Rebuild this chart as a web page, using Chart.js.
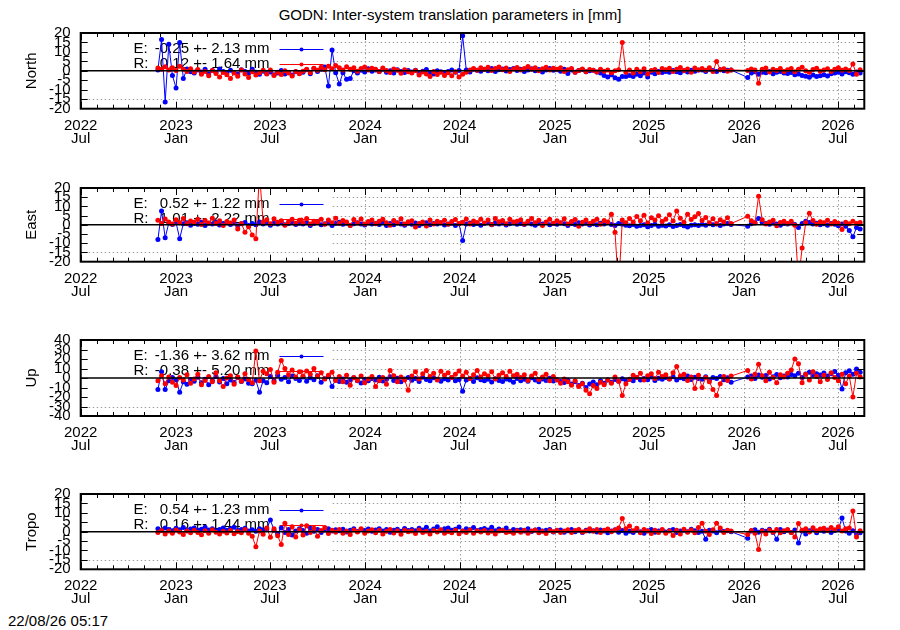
<!DOCTYPE html>
<html>
<head>
<meta charset="utf-8">
<script src="https://cdn.jsdelivr.net/npm/chart.js@4.4.1/dist/chart.umd.min.js"></script>
<style>
body { margin: 0; background: #fff; width: 900px; height: 630px; overflow: hidden; position: relative;
       font-family: "Liberation Sans", Arial, sans-serif; color: #000; }
.panel { position: absolute; left: 0; width: 900px; }
#title { position: absolute; top: 6px; left: 0; width: 900px; text-align: center; font-size: 15px; }
#stamp { position: absolute; left: 8px; top: 612px; font-size: 15px; }
</style>
</head>
<body>
<div id="title">GODN: Inter-system translation parameters in [mm]</div>
<div id="stamp">22/08/26 05:17</div>

<script>
// days since 2022-07-01 of each solution (weekly picks, gap around new year 2026)
var days = [
  149, 156, 163, 170, 177, 184, 191, 198, 205, 212,
  219, 226, 233, 240, 247, 254, 261, 268, 275, 282,
  289, 296, 303, 310, 317, 324, 331, 338, 345, 352,
  359, 366, 373, 380, 387, 394, 401, 408, 415, 422,
  429, 436, 443, 450, 457, 464, 471, 478, 485, 492,
  499, 506, 513, 520, 527, 534, 541, 548, 555, 562,
  569, 576, 583, 590, 597, 604, 611, 618, 625, 632,
  639, 646, 653, 660, 667, 674, 681, 688, 695, 702,
  709, 716, 723, 730, 737, 744, 751, 758, 765, 772,
  779, 786, 793, 800, 807, 814, 821, 828, 835, 842,
  849, 856, 863, 870, 877, 884, 891, 898, 905, 912,
  919, 926, 933, 940, 947, 954, 961, 968, 975, 982,
  989, 996, 1003, 1010, 1017, 1024, 1031, 1038, 1045, 1052,
  1059, 1066, 1073, 1080, 1087, 1094, 1101, 1108, 1115, 1122,
  1129, 1136, 1143, 1150, 1157, 1164, 1171, 1178, 1185, 1192,
  1199, 1206, 1213, 1220, 1227, 1234, 1241, 1248, 1255,
  1287,
  1294, 1301, 1308, 1315, 1322, 1329, 1336, 1343, 1350, 1357,
  1364, 1371, 1378, 1385, 1392, 1399, 1406, 1413, 1420, 1427,
  1434, 1441, 1448, 1455, 1462, 1469, 1476, 1483, 1490, 1497, 1504
];

var northE = [
  0.5, 16.5, -16.5, 14, -2.5, -9, 15, -4, 1, -0.5,
  -1.2, 0.4, -0.6, 0.8, -1.5, 0.2, -0.8, 1.0, -0.3, -1.1,
  0.3, -0.9, -1.6, 0.6, -0.4, -1.3, 0.9, -0.7, -1.8, -0.2,
  -1.4, -0.6, -2.0, -1.1, 0.2, -1.7, -0.9, -2.2, -0.5, -1.3,
  -0.8, 0.6, -1.5, 1.2, -0.4, 0.9, 2.0, -8.0, 11.0, -1.0,
  -7.0, -1.0, -4.5, -4.0, 0.0, -1.2, 0.3, -0.6, 1.1, -0.2,
  0.4, -0.3, 0.9, -0.8, 0.1, -1.2, 0.6, -0.4, -0.9, 0.2,
  -0.6, 0.3, -1.4, -0.2, 0.7, -0.9, -1.6, 0.1, -0.5, -1.1,
  -0.3, 0.5, -0.8, 0.2, 18.5, 0.4, -0.6, 0.9, 0.3, -0.2,
  0.8, 0.1, 1.2, -0.4, 0.6, 1.0, -0.1, 0.7, 1.3, 0.2,
  0.9, -0.3, 0.5, 1.1, 0.0, 0.7, -0.6, 0.4, 1.2, 0.3,
  0.6, -0.2, 0.9, -1.4, 0.4, -0.8, 0.2, 0.7, -0.5, 0.1,
  0.3, -0.6, -1.2, -2.5, -3.2, -2.0, -3.6, -4.5, -3.0, -3.0,
  -2.4, -3.0, -1.8, -2.6, -1.2, -3.2, -0.8, -1.5, -0.4, -0.9,
  -0.3, -0.8, 0.2, -0.5, -1.0, 0.1, -0.6, 0.3, -0.2, 0.4,
  0.5, -0.3, 0.8, 0.2, -0.4, 0.6, 0.1, 0.3, 0.4,
  -3.5,
  -1.2, -0.5, -1.8, -0.7, -1.0, -0.4, -1.5, -0.8, -0.3, -1.1,
  -1.4, -0.9, -2.0, -1.6, -2.4, -2.8, -3.4, -2.2, -3.0, -2.6,
  -2.0, -2.7, -1.5, -1.2, -0.8, -1.6, -0.5, -1.0, -1.8, -0.6, -1.2
];
var northR = [
  1.5, 0.8, 2.2, 0.4, 1.6, 0.2, 2.4, 0.9, -0.4, 1.1,
  -0.6, 0.7, -1.8, -0.3, -2.6, 0.2, -1.4, -3.2, -0.9, -2.1,
  -4.0, -1.2, -2.8, 0.4, -1.7, -3.5, -0.5, -2.2, -1.0, 0.3,
  -1.6, 0.5, -2.4, -0.8, -1.9, 0.1, -1.2, -2.7, -0.4, -1.5,
  -0.2, 0.8, -1.0, 1.4, 0.3, 1.9, 0.6, 2.4, 1.1, 2.8,
  1.6, 0.4, 2.2, 0.9, 1.7, -0.2, 1.2, 2.0, 0.5, 1.4,
  0.8, -0.4, 1.5, 0.2, -0.9, 1.0, 0.3, -1.3, 0.6, -0.5,
  -1.1, 0.2, -2.2, -0.6, -1.7, -3.0, -0.4, -1.9, -0.8, -2.4,
  -1.0, -2.6, -0.5, -3.2, -1.8, -0.7, 0.4, 1.2, 0.3, 1.6,
  0.7, 1.9, 0.2, 1.3, 2.1, 0.6, 1.5, -0.3, 1.0, 1.8,
  0.4, 1.2, 2.3, 0.8, 1.6, 0.1, 1.1, 1.9, 0.5, 1.4,
  0.9, 1.7, -0.4, 0.6, 1.3, -0.8, 0.2, 1.0, -0.5, 0.7,
  0.3, -0.6, 0.9, -0.2, 0.5, -1.0, 0.1, 0.6, 15.0, -0.8,
  0.4, -1.2, 0.8, -0.5, 1.1, -1.6, 0.2, 0.7, -0.9, 1.3,
  0.6, 1.4, -0.3, 0.9, 1.8, 0.2, 1.0, -0.7, 1.5, 0.4,
  1.2, 0.3, 1.7, -0.4, 5.0, 0.6, 1.1, -0.2, 0.5,
  0.2,
  1.0, 0.4, -6.5, 0.8, 1.5, -0.6, 0.9, 0.2, 1.3, -0.3,
  0.6, 1.2, -0.5, 0.8, 1.9, 0.1, -0.8, 0.7, 1.4, -0.2,
  0.5, 1.1, -0.4, 0.9, 1.6, 0.3, 1.0, 0.2, 3.6, -1.8, 0.6
];

var eastE = [
  -8.0, 7.5, -7.0, 1.0, 0.2, 1.2, -7.5, 0.6, 1.1, -0.2,
  0.8, 0.3, 1.4, -0.4, 0.9, 0.5, 1.6, -0.1, 0.7, 1.2,
  0.2, 1.0, -0.5, 0.6, 1.3, -0.3, 0.8, 0.1, 1.5, 0.4,
  1.1, -0.2, 0.9, 0.5, 1.6, 0.0, 0.7, 1.3, 0.2, 0.9,
  0.4, 1.2, -0.3, 0.8, 1.5, 0.1, 0.6, 1.1, -0.4, 0.7,
  1.4, 0.3, 0.9, -0.2, 0.6, 1.2, 0.5, -0.1, 1.0, 0.4,
  0.8, 0.2, 1.3, -0.3, 0.7, 0.1, 1.1, 0.5, -0.2, 0.9,
  0.3, 1.0, -0.4, 0.6, 1.2, 0.0, 0.8, 0.4, 1.1, -0.1,
  0.5, 0.9, -0.3, 0.6, -8.5, 0.4, 1.0, 0.2, 0.8, -0.2,
  0.7, 1.3, 0.1, 0.9, 0.4, 1.2, -0.1, 0.6, 1.0, 0.3,
  0.8, 0.2, 1.1, 0.5, -0.2, 0.9, 0.4, 1.3, 0.0, 0.7,
  0.3, 1.0, 0.6, -0.3, 0.8, 0.2, 1.2, 0.5, 0.9, -0.1,
  0.6, 0.1, 0.9, 0.4, 1.1, 0.2, -0.4, 0.7, 0.3, -0.2,
  -0.5, 0.2, -0.8, -0.3, 0.1, -1.0, -0.4, 0.3, -0.7, -0.2,
  -0.6, 0.0, -0.9, -0.3, 0.2, -0.5, -1.1, -0.2, 0.1, -0.4,
  0.3, -0.2, 0.6, 0.0, 0.4, -0.3, 0.5, 0.8, 0.2,
  -0.8,
  0.6, 1.2, 3.5, 1.4, 0.8, 0.3, 1.0, 0.5, -0.2, 0.7,
  0.4, 1.1, 0.2, -1.5, 0.8, 2.0, 1.3, 0.5, 0.9, 0.1,
  0.6, -0.2, 0.8, 0.3, -0.5, 0.4, -0.8, -3.0, -6.5, -1.5, -2.2
];
var eastR = [
  2.5, 0.8, 3.2, 1.6, 0.4, 2.8, 1.2, 3.5, 0.6, 2.1,
  1.4, 3.0, 0.2, 2.4, 1.0, 3.6, 0.7, 2.2, -0.3, 1.8,
  1.0, 2.6, -2.2, 0.8, -4.0, -1.0, -5.5, -7.5, 28.0, 1.5,
  2.8, 0.6, 3.3, 1.4, 2.2, -0.2, 1.7, 3.0, 0.9, 2.5,
  1.2, 3.4, 0.5, 2.0, 1.6, 3.1, 0.3, 2.7, 1.1, 3.6,
  0.8, 2.3, 1.5, -0.4, 2.9, 1.0, 3.2, 0.4, 1.8, 2.6,
  0.6, 2.0, 3.0, 1.2, -0.2, 2.4, 1.0, 3.3, 0.5, 1.7,
  2.2, -1.2, 0.8, 1.6, -0.6, 2.7, 0.4, 1.9, 1.1, 2.5,
  0.3, 1.8, 2.9, 0.7, 1.4, 3.2, 0.5, 2.1, 1.3, 3.0,
  1.0, 2.6, 0.2, 3.4, 1.7, 2.3, 0.6, 3.1, 1.5, 2.0,
  2.8, 0.4, 1.9, 3.5, 1.2, 2.5, -0.3, 1.6, 3.0, 0.9,
  2.2, 1.1, 3.3, 0.5, 1.8, 2.9, -0.8, 1.4, 2.6, 0.7,
  1.9, 3.1, 0.3, 2.4, 1.5, 5.8, -4.0, -35.0, 2.6, 1.2,
  3.4, 1.6, 4.5, 2.2, 5.2, 1.0, 3.8, 2.7, 4.9, 1.8,
  3.0, 5.5, 2.1, 7.5, 3.6, 1.4, 5.8, 2.9, 4.4, 6.2,
  2.4, 4.0, 1.2, 3.3, 0.6, 2.8, 1.5, 3.9, 0.7,
  4.6,
  2.2, 1.0, 15.5, 2.8, 0.4, 1.6, 2.5, -0.5, 1.3, 2.0,
  0.8, 1.9, -0.2, -30.0, -12.5, 1.1, 6.3, 2.4, 0.3, 1.7,
  1.2, 2.5, 0.4, 1.8, 0.9, -2.5, 1.4, 0.6, 2.0, 0.8, 1.3
];

var upE = [
  -12.0, 6.5, -12.0, -3.0, 0.5, -2.0, -15.0, -4.0, -6.5, -1.5,
  -3.5, 0.8, -5.0, -1.2, -7.0, -2.5, 1.5, -4.2, -0.6, -6.0,
  -2.2, -4.8, 0.4, -3.6, -1.0, -5.5, -6.0, -2.4, -15.0, -3.0,
  -5.0, 1.5, -2.8, 3.0, -1.2, 0.6, -4.0, 2.2, -0.5, -2.6,
  1.0, -3.4, 0.2, -1.8, 2.4, -4.5, -0.8, 1.6, -9.0, -2.0,
  -3.6, -1.0, -4.4, -2.2, 0.3, -3.0, -5.2, -1.6, -2.8, -0.4,
  -2.0, 0.8, -3.2, -1.4, 1.2, -2.6, -0.2, -4.0, -1.0, 0.5,
  -2.4, -0.6, -3.8, 0.9, -1.6, -2.9, 0.2, -1.2, -3.4, -0.8,
  -2.2, 0.4, -3.0, -1.5, -14.0, -2.0, -0.6, -3.6, 0.3, -1.8,
  -3.0, -1.2, -4.2, -0.8, -2.5, -3.8, -1.0, -2.2, -4.5, -0.5,
  -2.8, -1.4, -3.4, 0.2, -2.0, -4.0, -1.1, -2.6, -0.3, -3.2,
  -1.8, -3.6, -4.8, -2.4, -6.2, -4.0, -8.0, -5.4, -10.0, -6.4,
  -4.2, -7.0, -3.0, -5.6, -2.2, -4.4, -1.6, -3.4, -0.8, -2.6,
  -1.2, -3.0, 0.4, -2.0, -0.6, -1.8, 1.0, -2.6, -0.2, -1.4,
  0.6, -1.0, 1.4, -2.2, 0.2, -0.8, 2.0, -1.6, 0.8, -0.4,
  -1.2, 1.2, -2.4, 0.4, -0.6, 1.6, -1.8, 0.2, -4.5,
  1.0,
  2.0, -0.4, 3.2, 0.8, 2.6, -1.0, 1.4, 3.6, 0.2, 2.2,
  1.0, 3.8, 2.4, 5.0, 0.6, 4.2, 6.0, 2.8, 4.6, 3.2,
  5.2, 2.0, 4.4, 6.8, 3.0, -11.6, 5.6, 7.6, 4.0, 9.6, 6.0
];
var upR = [
  -3.0, 2.5, -6.0, 1.0, -4.5, -8.0, 0.5, -2.0, 3.5, -5.5,
  -1.0, 4.0, -7.0, -2.5, 1.5, -4.0, 5.5, -3.0, -9.0, 0.0,
  2.5, -6.5, 1.0, -3.5, 4.5, -1.5, -5.0, 28.5, -3.0, 7.0,
  4.5, 9.0, -4.5, 6.0, 18.5, 10.0, 3.5, 8.5, 1.0, 6.5,
  2.0, 7.5, 4.0, 10.0, 1.5, 5.5, -1.0, 3.0, 6.0, -2.5,
  1.5, -4.0, 3.0, -7.5, 0.5, -2.5, 2.0, -5.0, -1.0, 1.5,
  -9.0, -3.0, 0.5, -6.5, 8.0, 2.5, -4.0, 1.0, -2.0, -13.0,
  2.0, 6.5, -1.0, 4.5, 8.0, 1.5, 5.0, -2.0, 7.0, 3.0,
  5.5, 0.5, 4.0, 7.5, 2.0, 6.0, -0.5, 3.5, 8.0, 1.0,
  4.5, 2.0, 6.5, -1.0, 3.0, 5.5, 1.5, 7.0, 2.5, 4.0,
  0.5, 3.5, -2.5, 2.0, 5.0, -1.5, 1.0, 4.0, -3.0, 1.5,
  -2.0, -5.5, -1.0, -4.0, -7.5, -3.0, -9.0, -6.0, -13.0, -16.5,
  -8.0, -11.0, -4.5, -7.0, -2.0, -5.5, 1.0, -3.5, -18.5, -6.0,
  -1.5, 3.0, 0.5, 5.0, -2.0, 2.5, 4.5, -0.5, 6.0, 1.5,
  3.5, -1.0, 5.5, 12.0, 2.0, 4.0, -2.5, 1.0, -11.0, 3.0,
  -10.0, 0.5, -4.0, -12.0, -18.5, -6.0, 1.5, -2.5, 2.0,
  8.0,
  -1.0, 4.0, 14.5, 2.5, -3.0, 6.0, 0.5, -5.0, 3.5, 1.0,
  5.0, 8.5, 20.0, 15.0, -5.0, 4.0, -2.0, 6.5, 1.5, -4.0,
  3.0, -1.5, 5.5, 0.5, -3.0, 4.0, -6.0, 2.0, -20.0, 5.0, 1.0
];

var tropoE = [
  1.5, 0.8, 2.0, 1.2, 0.5, 1.8, 1.0, 2.2, 0.6, 1.4,
  1.9, 0.7, 1.3, 2.4, 0.9, 1.6, 0.3, 1.1, 2.0, 0.8,
  1.5, 2.3, 0.6, 1.2, 1.8, 0.4, 1.0, 0.2, 1.6, 0.9,
  1.4, 6.2, 0.8, -1.0, 2.0, -0.5, 1.2, -1.8, 0.4, 1.6,
  0.6, -0.8, 1.8, 0.2, 1.2, -0.4, 0.9, 1.5, 0.3, 1.0,
  0.5, 1.3, -0.2, 0.8, 1.6, 0.1, 1.1, 0.6, 1.4, 0.2,
  0.9, 1.5, 0.4, 1.1, -0.3, 0.8, 1.3, 0.2, 1.7, 0.6,
  1.2, 0.5, 1.8, 0.9, 2.4, 0.3, 1.4, 2.6, 0.8, 1.5,
  2.0, 0.7, 1.3, 2.5, 0.4, 1.6, 1.0, 2.2, 0.6, 1.1,
  1.7, 0.9, 2.3, 0.5, 1.4, 0.8, 1.9, 0.2, 1.2, 0.7,
  1.0, 0.4, 1.5, 0.1, 0.9, 1.3, 0.3, 0.8, 1.1, -0.2,
  0.6, 0.9, -0.3, 0.5, 1.2, 0.0, 0.7, -0.4, 0.8, 0.3,
  0.5, -0.2, 0.9, 0.3, -0.6, 0.4, 1.0, -0.3, 0.6, -0.8,
  0.2, -0.5, 0.8, 0.0, -0.9, 0.5, 1.2, -0.3, 0.4, 0.9,
  -0.2, 0.6, 1.1, -0.5, 0.3, 0.8, -0.1, 1.3, 0.5, -0.4,
  0.2, -4.0, 0.7, 0.3, -0.6, 0.9, 0.1, 0.5, 0.0,
  -3.5,
  0.4, 1.0, -0.3, 0.8, 0.2, 1.3, -0.5, -4.0, 1.1, 0.0,
  0.7, -0.4, 0.9, -6.0, 0.3, -1.2, 0.5, 1.1, -0.6, 0.8,
  0.2, 0.9, -0.5, 0.6, 1.2, 7.3, 0.4, -0.8, 0.5, -1.2, -0.6
];
var tropoR = [
  -0.5, 0.6, -1.2, 0.3, -0.8, 0.9, -0.2, -1.5, 0.4, -0.6,
  0.8, -0.4, -1.6, 0.5, -0.9, 1.0, -0.3, -1.3, 0.2, -0.7,
  0.6, -1.1, 0.1, -0.6, 1.2, -0.8, -2.5, -8.0, 0.3, -1.4,
  2.0, -3.0, 1.5, -2.2, -6.8, 4.4, -1.5, 2.6, -2.8, 1.0,
  -1.8, 3.2, -0.5, 1.8, -2.4, 0.6, 2.2, -1.0, 0.8, -0.3,
  1.2, -0.8, 0.4, -1.5, 0.9, -0.2, 1.5, -0.9, 0.3, 1.0,
  -0.6, 0.7, -1.2, 0.2, 1.1, -0.7, 0.5, -1.4, 0.8, -0.1,
  0.4, -1.0, 0.9, -0.5, 0.2, -1.3, 0.6, -0.2, 1.0, -0.8,
  0.1, -0.6, 0.7, -1.1, 0.3, -0.4, 0.9, -0.9, 0.5, -0.2,
  0.6, -0.7, 0.2, -1.2, 0.4, 0.8, -0.5, 0.1, -0.9, 0.5,
  -0.3, 0.7, -0.8, 0.3, 0.9, -0.6, 0.2, -1.0, 0.6, 0.0,
  0.8, -0.4, 0.3, 1.0, -0.5, 0.6, 1.2, -0.2, 0.4, 1.5,
  0.2, 1.1, -0.4, 0.7, 1.4, 0.0, 0.9, 2.0, 7.0, 1.5,
  3.0, 0.5, 1.8, -0.6, 1.2, 0.3, -1.0, 0.8, -0.4, 1.1,
  -0.8, 0.4, -2.0, 0.7, -1.2, 1.3, -0.3, 0.9, -0.6, 2.2,
  4.4, 0.2, -1.5, 1.0, 4.4, 2.0, -0.5, 0.8, 0.3,
  -1.5,
  0.6, -0.8, -9.5, 0.4, -1.2, 0.9, -0.3, 1.2, -0.6, 0.5,
  1.1, -0.4, -2.8, 4.3, 0.8, 1.6, -0.2, 2.1, 0.5, 1.4,
  1.8, 0.6, 2.2, 1.0, 2.6, 0.3, 1.5, 2.0, 11.0, -2.8, 0.5
];

// axis labels
var majorDays = [0, 184, 365, 549, 731, 915, 1096, 1280, 1461];
var majorYears = ['2022', '2023', '2023', '2024', '2024', '2025', '2025', '2026', '2026'];
var majorMonths = ['Jul', 'Jan', 'Jul', 'Jan', 'Jul', 'Jan', 'Jul', 'Jan', 'Jul'];
var ticks20 = [20, 15, 10, 5, 0, -5, -10, -15, -20];
var ticks40 = [40, 30, 20, 10, 0, -10, -20, -30, -40];

var panelNames = ['North', 'East', 'Up', 'Tropo'];
var panelE = [northE, eastE, upE, tropoE];
var panelR = [northR, eastR, upR, tropoR];
var panelTicks = [ticks20, ticks20, ticks40, ticks20];
var keyE = ['-0.25 +- 2.13 mm', '0.52 +- 1.22 mm', '-1.36 +- 3.62 mm', '0.54 +- 1.23 mm'];
var keyR = ['0.12 +- 1.64 mm', '1.01 +- 2.22 mm', '-0.38 +- 5.20 mm', '0.16 +- 1.44 mm'];

// plot frames in page pixels
var frameTop = [29.3, 184, 336.7, 490];
var frameBottom = [108.7, 261.7, 416, 569.3];
var frameLeft = 80.7, frameRight = 864.3;

var monthDays = [];
for (var m = 0; m <= 49; m++) {
    monthDays.push((Date.UTC(2022, 6 + m, 1) - Date.UTC(2022, 6, 1)) / 864e5);
}

[panelE, panelR].forEach(function(set){
    set.forEach(function(arr, k){
        if (arr.length != days.length) throw new Error(panelNames[k] + ' has ' + arr.length + ' values');
    });
});

var FONT = '"Liberation Sans", Arial, sans-serif';
Chart.defaults.font.family = FONT;
Chart.defaults.font.size = 15;
Chart.defaults.color = '#000';

var gnuplotLook = {
    id: 'gnuplotLook',
    beforeDatasetsDraw: function(chart){
        var p = chart.options.plugins.gnuplotLook;
        var ctx = chart.ctx, a = chart.chartArea;
        var xs = chart.scales.x, ys = chart.scales.y;
        var lim = p.ticks[0];
        ctx.save();
        // dotted grid
        ctx.strokeStyle = '#a0a0a0';
        ctx.lineWidth = 1;
        ctx.setLineDash([1.5, 2.5]);
        p.ticks.forEach(function(v){
            if (v == 0 || Math.abs(v) == lim) return;
            var py = Math.round(ys.getPixelForValue(v)) + 0.5;
            ctx.beginPath(); ctx.moveTo(a.left, py); ctx.lineTo(a.right, py); ctx.stroke();
        });
        majorDays.forEach(function(d){
            if (d < 480) return;
            var px = Math.round(xs.getPixelForValue(d)) + 0.5;
            ctx.beginPath(); ctx.moveTo(px, a.top); ctx.lineTo(px, a.bottom); ctx.stroke();
        });
        ctx.setLineDash([]);
        // key box
        ctx.fillStyle = '#fff';
        ctx.fillRect(a.left + 1, a.top + 1, 330 - a.left, 62);
        ctx.font = '15px ' + FONT;
        ctx.textBaseline = 'middle';
        var rows = [['E:', p.keyE, '#0000ff', 15.5], ['R:', p.keyR, '#ff0000', 31]];
        rows.forEach(function(r){
            var ty = a.top + r[3];
            ctx.fillStyle = '#000';
            ctx.textAlign = 'left';
            ctx.fillText(r[0], 133.5, ty);
            ctx.textAlign = 'right';
            ctx.fillText(r[1], 269.5, ty);
            var ly = Math.round(ty) + 0.5;
            ctx.strokeStyle = r[2];
            ctx.beginPath(); ctx.moveTo(279.5, ly); ctx.lineTo(323.5, ly); ctx.stroke();
            ctx.fillStyle = r[2];
            ctx.beginPath(); ctx.arc(301.5, ly, 2, 0, 2 * Math.PI); ctx.fill();
        });
        ctx.restore();
    },
    afterDatasetsDraw: function(chart){
        var p = chart.options.plugins.gnuplotLook;
        var ctx = chart.ctx, a = chart.chartArea;
        var xs = chart.scales.x, ys = chart.scales.y;
        var lim = p.ticks[0];
        ctx.save();
        ctx.strokeStyle = '#000';
        // zero line
        var y0 = ys.getPixelForValue(0);
        ctx.lineWidth = 1.5;
        ctx.beginPath(); ctx.moveTo(a.left, y0); ctx.lineTo(a.right, y0); ctx.stroke();
        // tics
        ctx.lineWidth = 1;
        monthDays.forEach(function(d){
            var px = Math.round(xs.getPixelForValue(d)) + 0.5;
            var len = majorDays.indexOf(d) >= 0 ? 7 : 4;
            ctx.beginPath();
            ctx.moveTo(px, a.bottom); ctx.lineTo(px, a.bottom - len);
            ctx.moveTo(px, a.top); ctx.lineTo(px, a.top + len);
            ctx.stroke();
        });
        p.ticks.forEach(function(v){
            if (Math.abs(v) == lim) return;
            var py = Math.round(ys.getPixelForValue(v)) + 0.5;
            ctx.beginPath();
            ctx.moveTo(a.left, py); ctx.lineTo(a.left + 7, py);
            ctx.moveTo(a.right, py); ctx.lineTo(a.right - 7, py);
            ctx.stroke();
        });
        // border
        ctx.lineWidth = 2;
        ctx.strokeRect(a.left, a.top, a.right - a.left, a.bottom - a.top);
        // y title
        ctx.fillStyle = '#000';
        ctx.font = '15px ' + FONT;
        ctx.textAlign = 'center';
        ctx.textBaseline = 'middle';
        ctx.translate(31.7, (a.top + a.bottom) / 2);
        ctx.rotate(-Math.PI / 2);
        ctx.fillText(p.name, 0, 0);
        ctx.restore();
    }
};

function makePanel(k){
    var padTop = frameTop[k] - Math.floor(frameTop[k]) + 15;
    var top = Math.floor(frameTop[k]) - 15;
    var axisH = 46;
    var height = Math.ceil(padTop + frameBottom[k] - frameTop[k] + axisH);

    var div = document.createElement('div');
    div.className = 'panel';
    div.style.top = top + 'px';
    div.style.height = height + 'px';
    var canvas = document.createElement('canvas');
    canvas.width = 900;
    canvas.height = height;
    div.appendChild(canvas);
    document.body.appendChild(div);

    var ticks = panelTicks[k];
    var lim = ticks[0];
    var padBottom = height - padTop - (frameBottom[k] - frameTop[k]) - axisH;

    new Chart(canvas.getContext('2d'), {
        type: 'line',
        data: {
            datasets: [{
                label: 'R',
                data: days.map(function(d, i){ return {x: d, y: panelR[k][i]}; }),
                borderColor: '#ff0000',
                backgroundColor: '#ff0000',
                borderWidth: 1,
                pointRadius: 2.5,
                pointBorderWidth: 0,
                pointHoverRadius: 0,
                tension: 0,
                clip: 0
            }, {
                label: 'E',
                data: days.map(function(d, i){ return {x: d, y: panelE[k][i]}; }),
                borderColor: '#0000ff',
                backgroundColor: '#0000ff',
                borderWidth: 1,
                pointRadius: 2.5,
                pointBorderWidth: 0,
                pointHoverRadius: 0,
                tension: 0,
                clip: 0
            }]
        },
        options: {
            responsive: false,
            animation: false,
            events: [],
            layout: { padding: { top: padTop, left: 0, right: 900 - frameRight, bottom: padBottom } },
            plugins: {
                legend: { display: false },
                tooltip: { enabled: false },
                gnuplotLook: { name: panelNames[k], ticks: ticks, keyE: keyE[k], keyR: keyR[k] }
            },
            scales: {
                x: {
                    type: 'linear',
                    min: 0,
                    max: 1512,
                    afterBuildTicks: function(s){ s.ticks = monthDays.map(function(v){ return {value: v}; }); },
                    afterFit: function(s){ s.height = axisH; },
                    grid: { display: false, drawTicks: false },
                    border: { display: false },
                    ticks: {
                        autoSkip: false,
                        maxRotation: 0,
                        minRotation: 0,
                        padding: 10.5,
                        font: { size: 15, lineHeight: '13px' },
                        callback: function(v){
                            var j = majorDays.indexOf(v);
                            return j < 0 ? '' : [majorYears[j], majorMonths[j]];
                        }
                    }
                },
                y: {
                    type: 'linear',
                    min: -lim,
                    max: lim,
                    afterBuildTicks: function(s){ s.ticks = ticks.map(function(v){ return {value: v}; }); },
                    afterFit: function(s){ s.width = frameLeft; },
                    grid: { display: false, drawTicks: false },
                    border: { display: false },
                    ticks: {
                        autoSkip: false,
                        padding: 10,
                        font: { size: 15 },
                        callback: function(v){ return String(v); }
                    }
                }
            }
        },
        plugins: [gnuplotLook]
    });
}

for (var k = 0; k < 4; k++) makePanel(k);
</script>
</body>
</html>
